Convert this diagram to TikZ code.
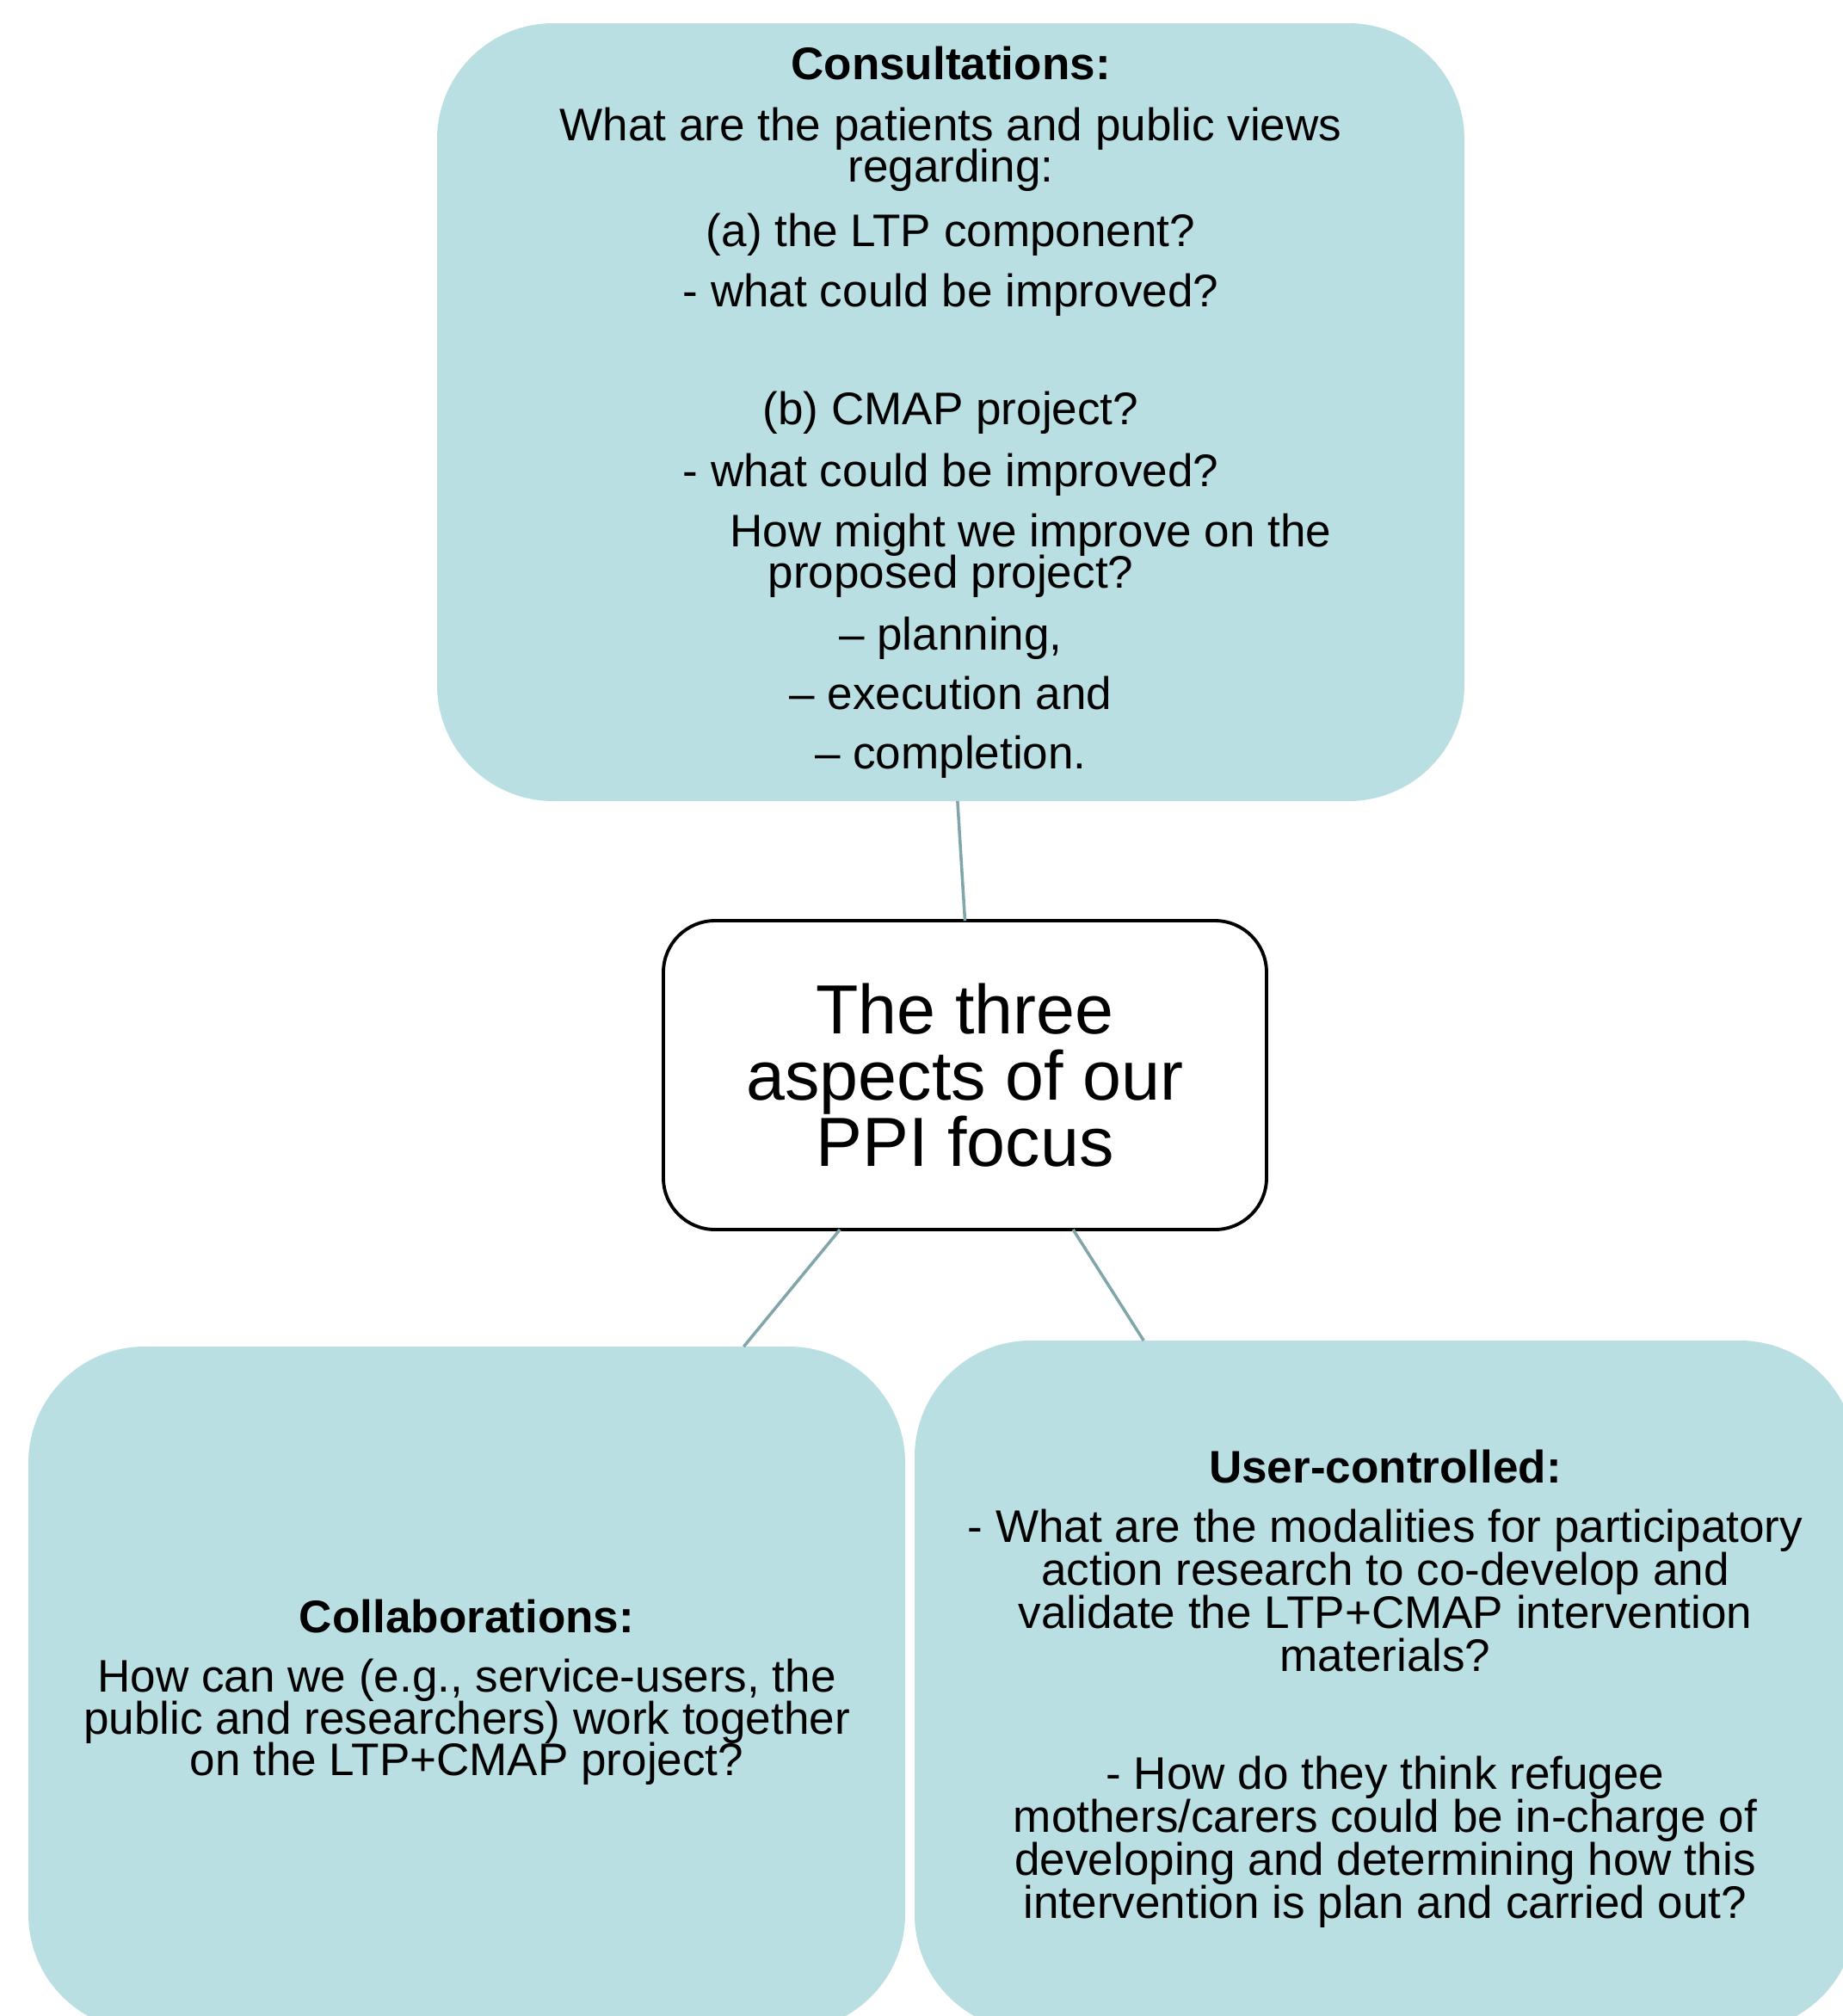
\documentclass[tikz,border=0pt]{standalone}
\usepackage{fontspec}
\setmainfont{Liberation Sans}
\usetikzlibrary{positioning}
\definecolor{ppiteal}{RGB}{186,223,226}
\definecolor{ppiline}{RGB}{128,166,170}
\newcommand{\aspectfont}{\fontsize{15.1pt}{13.7pt}\selectfont\lineskiplimit=-20pt\relax}

\begin{document}
\begin{tikzpicture}[node distance=1.3cm,
  aspect/.style={rectangle, fill=ppiteal, rounded corners=1.35cm, inner sep=0pt, outer sep=0pt, align=center, font=\aspectfont},
  focusbox/.style={rectangle, draw=black, line width=1.1pt, fill=white, rounded corners=0.6cm, minimum width=7.01cm, minimum height=3.59cm, inner sep=0pt, outer sep=0pt, align=center, font=\fontsize{23pt}{21.9pt}\selectfont},
  link/.style={draw=ppiline, line width=1pt}
]
\useasboundingbox (0,0) rectangle (21.42,-23.43);
% centre box and the three aspects round it
\node[focusbox] (focus) at (11.215,-12.495) {The three\\aspects of our\\PPI focus};
\node[aspect, minimum width=11.94cm, minimum height=9.04cm, above=1.39cm of focus, xshift=-0.165cm] (consult) {%
  \textbf{Consultations:}\\[0.23cm]
  What are the patients and public views\\
  regarding:\\[0.27cm]
  (a) the LTP component?\\[0.21cm]
  - what could be improved?\\[0.89cm]
  (b) CMAP project?\\[0.24cm]
  - what could be improved?\\[0.22cm]
  \hspace*{1.86cm}How might we improve on the\\
  proposed project?\\[0.24cm]
  – planning,\\[0.21cm]
  – execution and\\[0.20cm]
  – completion.};
% the lower boxes carry their text a little below centre
\node[aspect, minimum width=10.19cm, minimum height=7.95cm, below=1.36cm of focus, xshift=-5.79cm] (collab) {%
  \rule{0pt}{0.47cm}\textbf{Collaborations:}\\[0.21cm]
  How can we (e.g., service-users, the\\
  public and researchers) work together\\
  on the LTP+CMAP project?};
\node[aspect, font=\aspectfont\fontsize{15.1pt}{14.2pt}\selectfont, minimum width=10.94cm, minimum height=8.02cm, below=1.29cm of focus, xshift=4.885cm] (usercontrol) {%
  \rule{0pt}{0.46cm}\textbf{User-controlled:}\\[0.19cm]
  - What are the modalities for participatory\\
  action research to co-develop and\\
  validate the LTP+CMAP intervention\\
  materials?\\[0.88cm]
  - How do they think refugee\\
  mothers/carers could be in-charge of\\
  developing and determining how this\\
  intervention is plan and carried out?};
\draw[link] (consult.271) -- (focus.north);
\draw[link] (focus.231) -- (collab.51);
\draw[link] (focus.305) -- (usercontrol.125);
\end{tikzpicture}
\end{document}
